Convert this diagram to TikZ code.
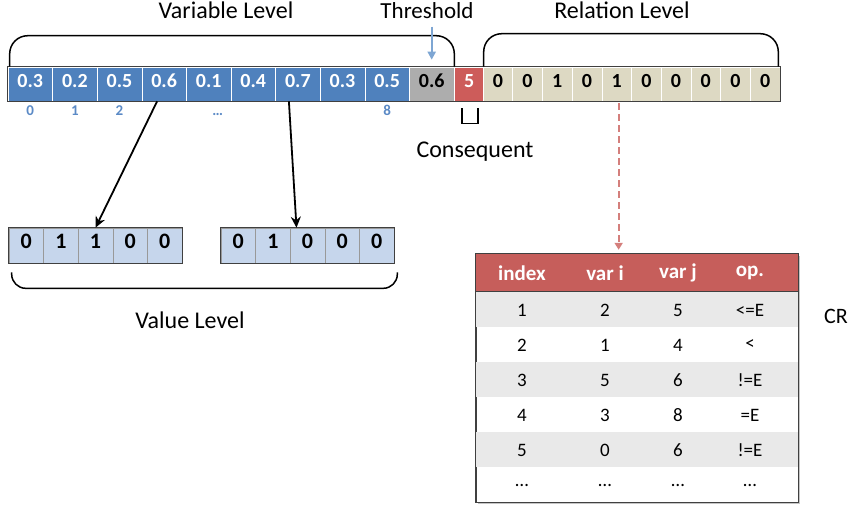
\documentclass[tikz,border=0pt]{standalone}
\usepackage{fontspec}
\setmainfont{Carlito}
\usepackage{xcolor}
\usepackage{tikz}
\usetikzlibrary{positioning,arrows.meta,calc,shadows}

\definecolor{varblue}{HTML}{4F81BD}
\definecolor{idxblue}{HTML}{5B8AC6}
\definecolor{thrgray}{HTML}{ADADAD}
\definecolor{consred}{HTML}{CD5C5A}
\definecolor{relbeige}{HTML}{DDD9C3}
\definecolor{valblue}{HTML}{C6D6EC}
\definecolor{headred}{HTML}{C65E5B}
\definecolor{rowgray}{HTML}{E9E9E9}
\definecolor{thrarrow}{HTML}{7EA6D3}
\definecolor{relarrow}{HTML}{D47F7C}

\begin{document}
\begin{tikzpicture}[
  x=1pt, y=-1pt,
  cell/.style={draw=white, line width=0.6pt, minimum height=34, inner sep=0pt,
    text height=0.64em, text depth=0pt, font=\fontsize{20}{20}\selectfont\bfseries},
  cell_var/.style={cell, fill=varblue, text=white, minimum width=\wV},
  cell_thr/.style={cell, fill=thrgray, text=black, minimum width=\wV},
  cell_cons/.style={cell, fill=consred, text=white, minimum width=29},
  cell_rel/.style={cell, fill=relbeige, text=black, minimum width=\wR},
  cell_val/.style={draw=black!40, line width=0.6pt, fill=valblue, minimum width=\wA,
    minimum height=35, inner sep=0pt, text height=0.64em, text depth=0pt,
    font=\fontsize{22}{22}\selectfont\bfseries},
  idx_label/.style={font=\fontsize{15}{15}\selectfont\bfseries, text=idxblue, inner sep=1pt,
    text height=0.64em, text depth=0pt},
  lvl_label/.style={font=\fontsize{24}{26}\selectfont, anchor=base},
  brace/.style={draw=black, line width=1.5pt, rounded corners=18pt},
  val_arrow/.style={draw=black, line width=1.8pt, -{Stealth[length=11pt,width=10pt]}},
  thr_arrow/.style={draw=thrarrow, line width=2pt, -{Triangle[length=8pt,width=8pt]}},
  rel_arrow/.style={draw=relarrow, line width=1.8pt, dash pattern=on 7pt off 4pt,
    -{Triangle[length=7pt,width=8pt]}},
  tab_frame/.style={draw=black!75, fill=white, minimum width=322, minimum height=248,
    inner sep=0pt, drop shadow={shadow xshift=2pt, shadow yshift=-2pt, fill=black!45}},
  tab_head/.style={font=\fontsize{21}{21}\selectfont\bfseries, text=white},
  tab_cell/.style={font=\fontsize{19}{19}\selectfont}
]
\def\wV{44.6}
\def\wR{29.7}
\def\wA{34.6}
\useasboundingbox (0,0) rectangle (852,509);

% --- Chromosome strip: variable level, threshold, consequent, relation level ---
\foreach \v [count=\i from 0] in {0.3,0.2,0.5,0.6,0.1,0.4,0.7,0.3,0.5}
  \node[cell_var] (v\i) at ({8+\wV/2+\i*\wV},84) {\v};
\node[cell_thr] (th) at ({8+9.5*\wV},84) {0.6};
\node[cell_cons, right=0pt of th] (cons) {5};
\foreach \v [count=\i from 0] in {0,0,1,0,1,0,0,0,0,0}
  \node[cell_rel] (r\i) at ({483+\wR/2+\i*\wR},84) {\v};
\draw[black!75, line width=0.8pt] (v0.north west) rectangle (r9.south east);

% variable indices
\node[idx_label, below=7pt of v0] (i0) {0};
\node[idx_label, below=7pt of v1] (i1) {1};
\node[idx_label, below=7pt of v2] (i2) {2};
\node[idx_label, below=7pt of v4, xshift=9pt] (idots) {…};
\node[idx_label, below=7pt of v8] (i8) {8};

% --- Braces and level labels ---
\draw[brace] ([xshift=2pt]v0.north west) -- ++(0,-31) -| (th.north east);
\draw[brace] ([xshift=1pt]r0.north west) -- ++(0,-33) -| ([xshift=-2pt]r9.north east);
\node[lvl_label] (varlvl) at (226,18) {Variable Level};
\node[lvl_label] (rellvl) at (622,18) {Relation Level};
\node[lvl_label, font=\fontsize{23}{25}\selectfont] (thlabel) at (427,18) {Threshold};
\draw[thr_arrow, shorten <=5pt] (thlabel.south -| th.north) -- ([yshift=7pt]th.north);

\draw[line width=1.5pt] ([shift={(-7,7)}]cons.south) -- ++(0,15) -- ++(16,0) -- ++(0,-15);
\node[lvl_label] (conslbl) at (475,157) {Consequent};

% --- Value level ---
\foreach \v [count=\i from 0] in {0,1,1,0,0}
  \node[cell_val] (a\i) at ({9+\wA/2+\i*\wA},245.5) {\v};
\foreach \v [count=\i from 0] in {0,1,0,0,0}
  \node[cell_val] (b\i) at ({221+\wA/2+\i*\wA},245.5) {\v};
\draw[black!75, line width=0.8pt] (a0.north west) rectangle (a4.south east);
\draw[black!75, line width=0.8pt] (b0.north west) rectangle (b4.south east);

\draw[val_arrow] ([xshift=-7pt]v3.south) -- (a2.north);
\draw[val_arrow] ([xshift=-9pt]v6.south) -- ([xshift=-11pt]b2.north);

\draw[brace, rounded corners=14pt] ([shift={(3,9)}]a0.south west) -- ++(0,16) -| ([shift={(3,9)}]b4.south east);
\node[lvl_label] (vallvl) at (190,328) {Value Level};

% --- CR table ---
\node[tab_frame] (tab) at (637,378) {};
\fill[headred] (tab.north west) rectangle ([yshift=-38pt]tab.north east);
\foreach \r in {0,2,4}
  \fill[rowgray] ($(tab.north west)+(0,38+35*\r)$) rectangle ($(tab.north east)+(0,73+35*\r)$);
\draw[black!75, line width=0.8pt] ([yshift=-38pt]tab.north west) -- ([yshift=-38pt]tab.north east);
\draw[black!75, line width=0.9pt] (tab.north west) rectangle (tab.south east);

\foreach \t/\x [count=\c] in {index/522, var i/605, var j/678, op./750}
  \node[tab_head] (h\c) at (\x,273) {\t};
\foreach \a/\b/\c/\d [count=\r] in {1/2/5/<=E, 2/1/4/<, 3/5/6/!=E, 4/3/8/=E, 5/0/6/!=E, …/…/…/…} {
  \node[tab_cell] (c\r a) at (522,{275+35*\r}) {\a};
  \node[tab_cell] (c\r b) at (605,{275+35*\r}) {\b};
  \node[tab_cell] (c\r c) at (678,{275+35*\r}) {\c};
  \node[tab_cell] (c\r d) at (750,{275+35*\r}) {\d};
}
\node[lvl_label, font=\fontsize{22}{22}\selectfont] (cr) at (836,323) {CR};

\draw[rel_arrow, shorten <=2pt, shorten >=4pt] ([xshift=2pt]r4.south) -- ([xshift=2pt]r4.south |- tab.north);

\end{tikzpicture}
\end{document}
